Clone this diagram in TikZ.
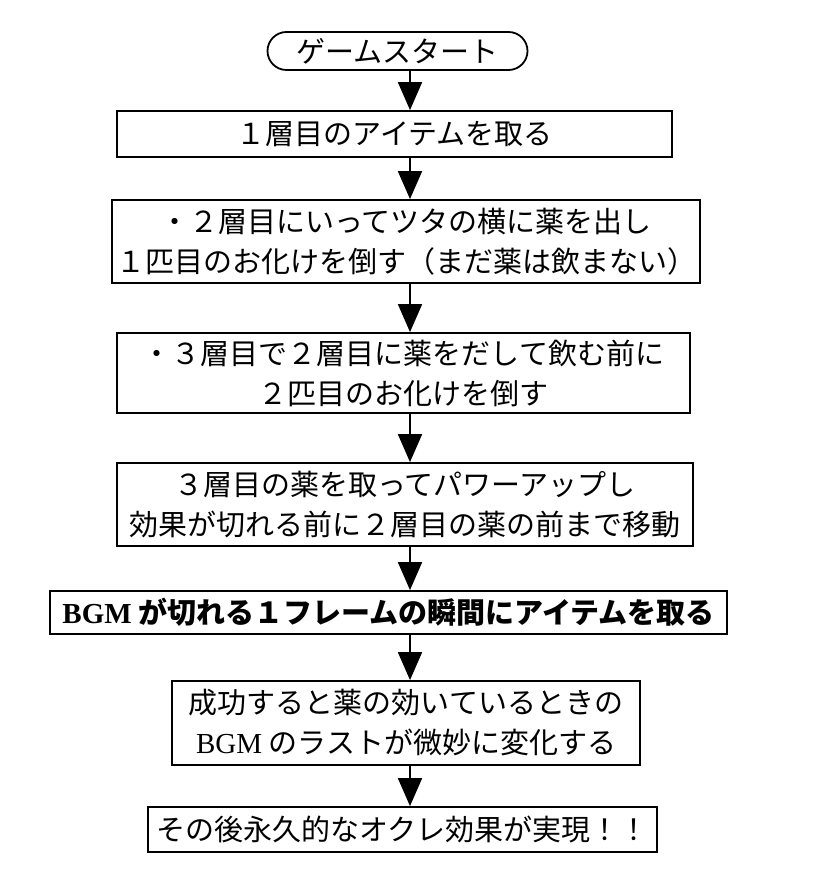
\documentclass[tikz,border=0pt]{standalone}
\usepackage{fontspec}
\setmainfont{Noto Sans CJK JP}
\newfontfamily\latin{Liberation Serif}
\usepackage{tikz}
\usetikzlibrary{shapes.geometric,shapes.misc,arrows.meta,positioning,calc}
\tikzset{
  box/.style={draw, line width=0.9pt, inner sep=0pt, align=center,
    font=\fontsize{14.5}{20}\selectfont},
  term/.style={box, rounded rectangle},
  flow/.style={line width=0.9pt, -{Triangle[width=12pt,length=14pt]}}
}

\begin{document}
\begin{tikzpicture}[x=0.5pt,y=-0.5pt]
\useasboundingbox (0,0) rectangle (812,876);

% nodes
\node[term, minimum width=130pt, minimum height=19pt] (start) at (397.5,51) {ゲームスタート};
\node[box, minimum width=277.5pt, minimum height=23pt] (get1) at (394.5,134) {１層目のアイテムを取る};
\node[box, minimum width=294pt, minimum height=41.5pt] (kill1) at (406,241.5)
  {・２層目にいってツタの横に薬を出し\\１匹目のお化けを倒す（まだ薬は飲まない）};
\node[box, minimum width=286.5pt, minimum height=40pt] (kill2) at (403.5,373)
  {・３層目で２層目に薬をだして飲む前に\\２匹目のお化けを倒す};
\node[box, minimum width=288pt, minimum height=41.5pt] (power) at (405,504.5)
  {３層目の薬を取ってパワーアップし\\効果が切れる前に２層目の薬の前まで移動};
\node[box, minimum width=338.5pt, minimum height=21.5pt, font=\fontsize{14.5}{20}\selectfont\bfseries] (frame) at (388.5,612.5)
  {{\latin\bfseries BGM} が切れる１フレームの瞬間にアイテムを取る};
\node[box, minimum width=234pt, minimum height=42pt] (bgm) at (406,723)
  {成功すると薬の効いているときの\\{\latin BGM} のラストが微妙に変化する};
\node[box, minimum width=254.5pt, minimum height=22.5pt] (done) at (402.5,829.5)
  {その後永久的なオクレ効果が実現！！};

% arrows
\coordinate (col) at (410,0);
\draw[flow] (start.south -| col) -- (get1.north -| col);
\draw[flow] (get1.south -| col) -- (kill1.north -| col);
\draw[flow] (kill1.south -| col) -- (kill2.north -| col);
\draw[flow] (kill2.south -| col) -- (power.north -| col);
\draw[flow] (power.south -| col) -- (frame.north -| col);
\draw[flow] (frame.south -| col) -- (bgm.north -| col);
\draw[flow] (bgm.south -| col) -- (done.north -| col);

\end{tikzpicture}
\end{document}
